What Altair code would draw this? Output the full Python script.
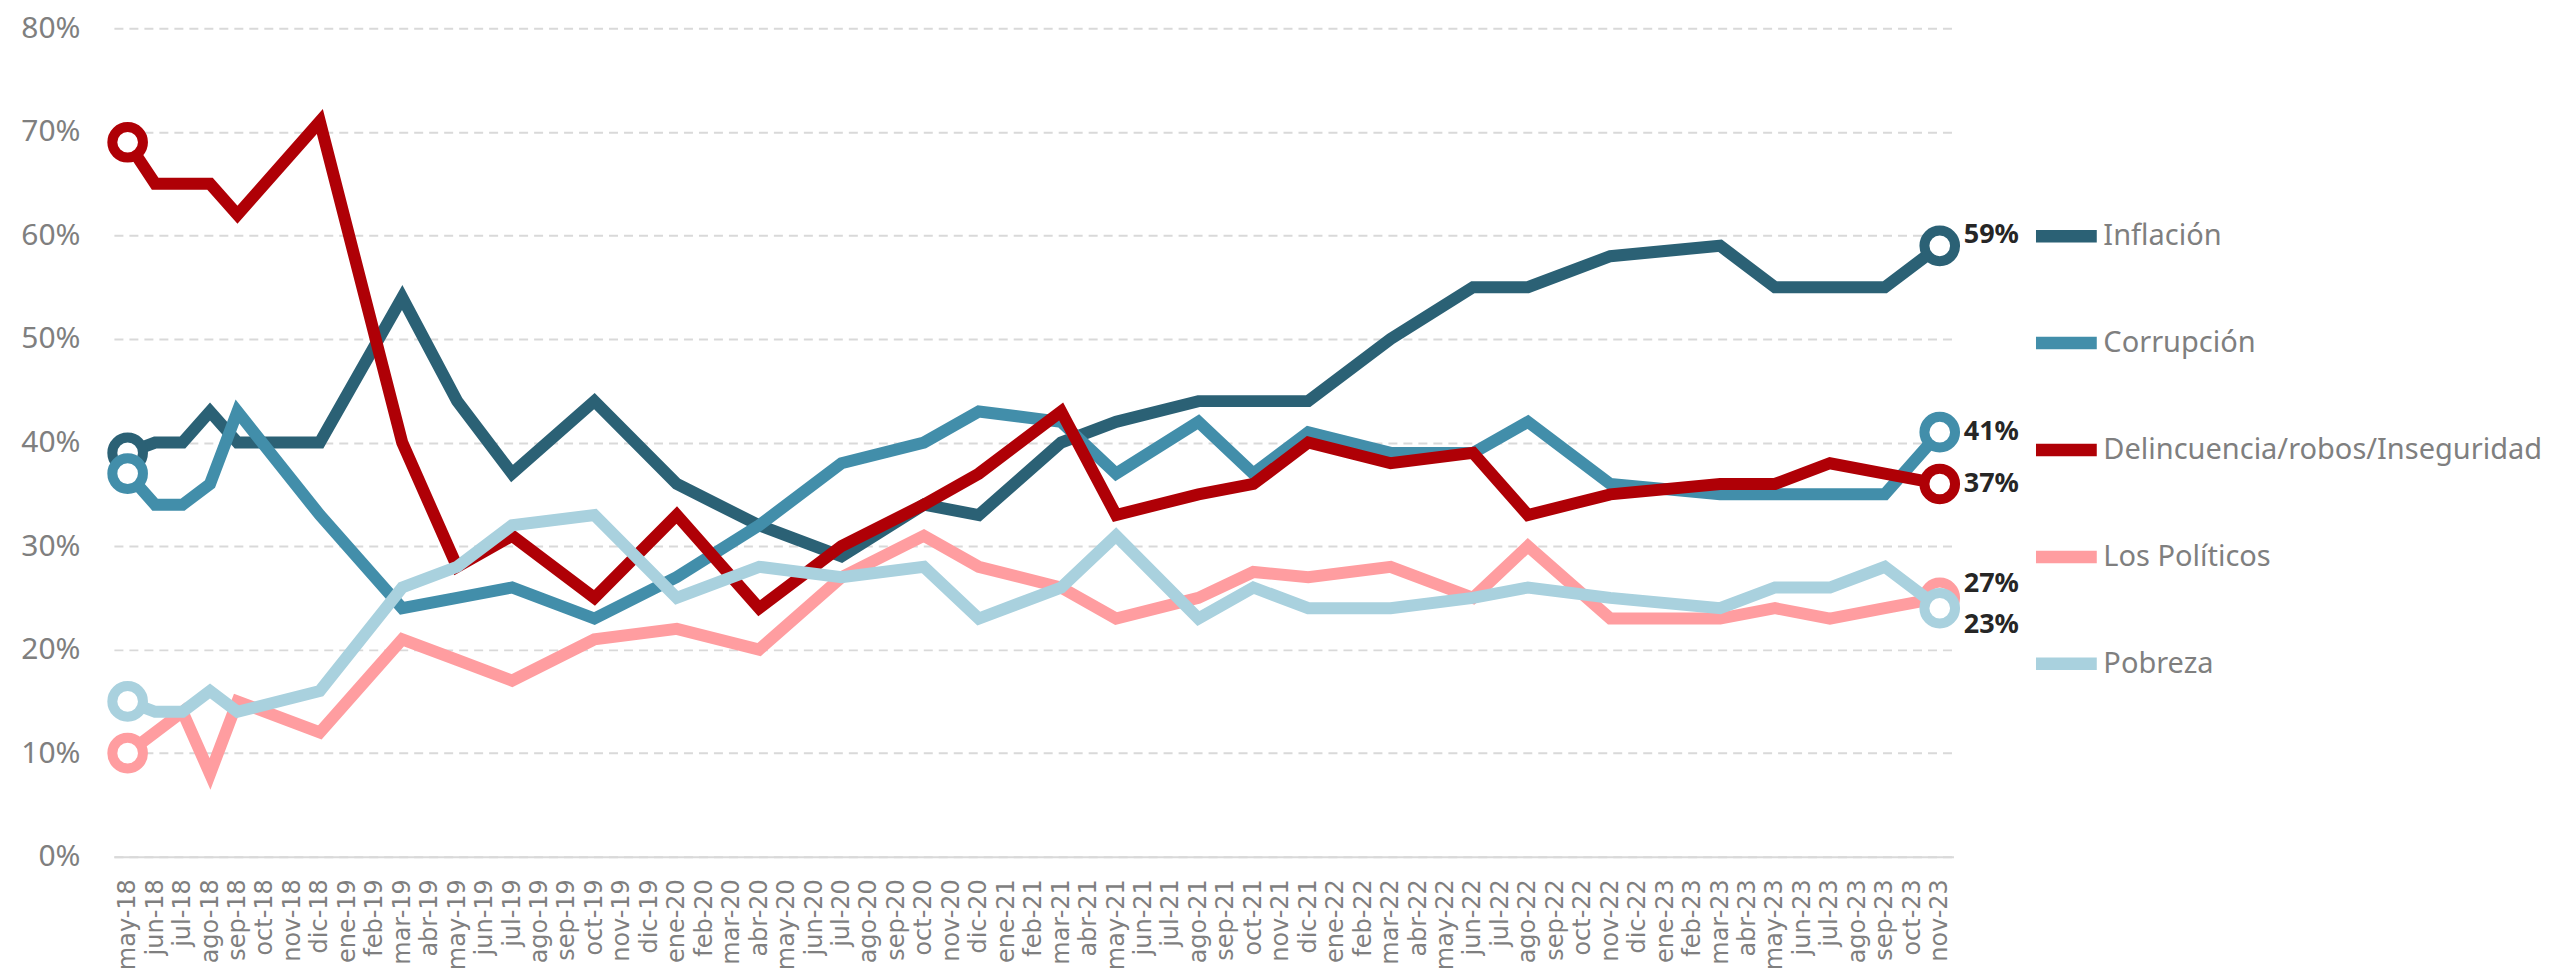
import altair as alt
import pandas as pd

# Eje X: todos los meses (categorías)
meses = [
    "may-18", "jun-18", "jul-18", "ago-18", "sep-18", "oct-18", "nov-18", "dic-18",
    "ene-19", "feb-19", "mar-19", "abr-19", "may-19", "jun-19", "jul-19", "ago-19",
    "sep-19", "oct-19", "nov-19", "dic-19", "ene-20", "feb-20", "mar-20", "abr-20",
    "may-20", "jun-20", "jul-20", "ago-20", "sep-20", "oct-20", "nov-20", "dic-20",
    "ene-21", "feb-21", "mar-21", "abr-21", "may-21", "jun-21", "jul-21", "ago-21",
    "sep-21", "oct-21", "nov-21", "dic-21", "ene-22", "feb-22", "mar-22", "abr-22",
    "may-22", "jun-22", "jul-22", "ago-22", "sep-22", "oct-22", "nov-22", "dic-22",
    "ene-23", "feb-23", "mar-23", "abr-23", "may-23", "jun-23", "jul-23", "ago-23",
    "sep-23", "oct-23", "nov-23",
]

# Meses con medición
fechas = [
    "may-18", "jun-18", "jul-18", "ago-18", "sep-18", "dic-18", "mar-19", "may-19",
    "jul-19", "oct-19", "ene-20", "abr-20", "jul-20", "oct-20", "dic-20", "mar-21",
    "may-21", "ago-21", "oct-21", "dic-21", "mar-22", "jun-22", "ago-22", "nov-22",
    "mar-23", "may-23", "jul-23", "sep-23", "nov-23",
]

inflacion = [39, 40, 40, 43, 40, 40, 54, 44, 37, 44, 36, 32, 29, 34, 33, 40, 42, 44, 44, 44,
             50, 55, 55, 58, 59, 55, 55, 55, 59]
corrupcion = [37, 34, 34, 36, 43, 33, 24, 25, 26, 23, 27, 32, 38, 40, 43, 42, 37, 42, 37, 41,
              39, 39, 42, 36, 35, 35, 35, 35, 41]
delincuencia = [69, 65, 65, 65, 62, 71, 40, 28, 31, 25, 33, 24, 30, 34, 37, 43, 33, 35, 36, 40,
                38, 39, 33, 35, 36, 36, 38, 37, 36]
politicos = [10, 12, 14, 8, 15, 12, 21, 19, 17, 21, 22, 20, 27, 31, 28, 26, 23, 25, 27.5, 27,
             28, 25, 30, 23, 23, 24, 23, 24, 25]
pobreza = [15, 14, 14, 16, 14, 16, 26, 28, 32, 33, 25, 28, 27, 28, 23, 26, 31, 23, 26, 24,
           24, 25, 26, 25, 24, 26, 26, 28, 24]

series = ["Inflación", "Corrupción", "Delincuencia/robos/Inseguridad", "Los Políticos", "Pobreza"]
valores = [inflacion, corrupcion, delincuencia, politicos, pobreza]
etiquetas = ["59%", "41%", "37%", "27%", "23%"]

colores = ["#2B6175", "#428EAA", "#AF0006", "#FF9DA0", "#A9D1DE"]
label_dy = [-11, 0, 0, -14, 17]

y_ticks = [0, 10, 20, 30, 40, 50, 60, 70, 80]

rows = []
for s, vals in zip(series, valores):
    for f, v in zip(fechas, vals):
        rows.append({"fecha": f, "serie": s, "valor": v})
df = pd.DataFrame(rows)

GREY = "#7f7f7f"

x_enc = alt.X(
    "fecha:O",
    sort=meses,
    scale=alt.Scale(domain=meses, padding=0.5),
    title=None,
    axis=alt.Axis(
        labelAngle=-90,
        labelAlign="right",
        labelBaseline="middle",
        labelFont="DejaVu Sans",
        labelFontSize=24,
        labelColor=GREY,
        labelPadding=22,
        labelOverlap=False,
        ticks=False,
        grid=False,
        domainColor="#d9d9d9",
        domainWidth=2,
    ),
)
y_enc = alt.Y(
    "valor:Q",
    scale=alt.Scale(domain=[0, 80], nice=False, zero=True),
    title=None,
    axis=alt.Axis(
        values=y_ticks,
        labelExpr="datum.value + '%'",
        labelFont="Noto Sans",
        labelFontSize=30,
        labelColor=GREY,
        labelPadding=34,
        labelBaseline="middle",
        ticks=False,
        domain=False,
        grid=True,
        gridDash=[9, 6],
        gridColor="#d9d9d9",
        gridWidth=2,
    ),
)

color_scale = alt.Scale(domain=series, range=colores)

legend = alt.Legend(
    orient="none",
    legendX=1917,
    legendY=171,
    title=None,
    symbolType="stroke",
    symbolSize=3700,
    symbolStrokeWidth=12.5,
    labelFont="Noto Sans",
    labelFontSize=29,
    labelColor=GREY,
    labelOffset=0,
    labelLimit=0,
    rowPadding=45,
    padding=0,
)

layers = []
for i, s in enumerate(series):
    base = alt.Chart(df).transform_filter(alt.datum.serie == s)
    line = base.mark_line(strokeWidth=12).encode(
        x=x_enc,
        y=y_enc,
        color=alt.Color("serie:N", scale=color_scale, legend=legend),
    )
    ends = (
        base.transform_filter(
            (alt.datum.fecha == fechas[0]) | (alt.datum.fecha == fechas[-1])
        )
        .mark_point(shape="circle", filled=False, fill="white", fillOpacity=1,
                    opacity=1, size=940, strokeWidth=10)
        .encode(
            x=x_enc,
            y=y_enc,
            stroke=alt.Stroke("serie:N", scale=color_scale, legend=None),
        )
    )
    layers += [line, ends]

for s, lab, dy in zip(series, etiquetas, label_dy):
    txt = (
        alt.Chart(df)
        .transform_filter((alt.datum.serie == s) & (alt.datum.fecha == fechas[-1]))
        .transform_calculate(etiqueta=f"'{lab}'")
        .mark_text(align="left", baseline="middle", dx=24, dy=dy, font="Noto Sans",
                   fontSize=27, fontWeight="bold", color="#262626")
        .encode(x=x_enc, y=y_enc, text="etiqueta:N")
    )
    layers.append(txt)

chart = (
    alt.layer(*layers)
    .properties(
        width=1841,
        height=829,
        padding={"left": 106, "top": 20, "right": 596, "bottom": 118},
        autosize=alt.AutoSizeParams(type="none"),
        background="white",
    )
    .configure_view(stroke=None)
)

chart.save("out.html", embed_options={"renderer": "svg", "actions": False})
